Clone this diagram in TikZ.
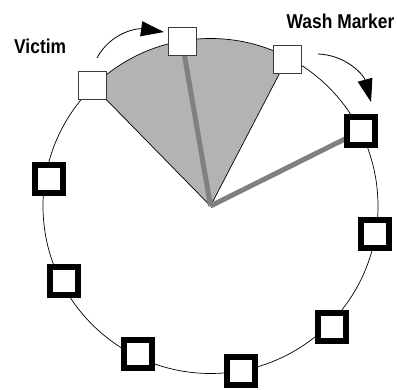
\documentclass[tikz,border=0pt]{standalone}
\usepackage{fontspec}
\newfontfamily\labfont[FakeStretch=0.87]{Liberation Sans}
\usetikzlibrary{arrows.meta}
\definecolor{wedgegray}{RGB}{179,179,179}
\definecolor{spoke}{RGB}{128,128,128}
\definecolor{thinb}{RGB}{60,60,60}
\tikzset{
  whitesq/.style={draw=thinb, line width=0.8pt, fill=white, minimum size=28pt, inner sep=0pt},
  thicksq/.style={draw=black, line width=6pt, fill=white, minimum size=28pt, inner sep=0pt},
  spokeline/.style={draw=spoke, line width=5pt},
  ring/.style={draw=black, line width=0.7pt},
  movearrow/.style={draw=black, line width=0.8pt, -{Triangle[length=23pt,width=15pt]}},
  lab/.style={font=\labfont\bfseries\fontsize{20}{24}\selectfont, inner sep=0pt}
}
\begin{document}
\begin{tikzpicture}[x=1pt,y=1pt]
\useasboundingbox (0,0) rectangle (397,390);
\coordinate (C) at (210.5,184);
% shaded wedge
\fill[fill=wedgegray] (C) -- ([shift={(134.4:167.5)}]C) arc[start angle=134.4, end angle=62.5, radius=167.5] -- cycle;
\draw[ring] ([shift={(134.4:167.5)}]C) -- (C) -- ([shift={(62.5:167.5)}]C);
% ring
\draw[ring] (C) circle[radius=167.5];
% squares positions
\coordinate (p1) at (92,305);
\coordinate (p2) at (182,349);
\coordinate (p3) at (287,331);
\coordinate (p4) at (361,259);
% spokes
\draw[spokeline] (C) -- (p2);
\draw[spokeline] (C) -- (p4);
% squares
\node[whitesq] (s1) at (p1) {};
\node[whitesq] (s2) at (p2) {};
\node[whitesq] (s3) at (p3) {};
\node[thicksq] (s4) at (p4) {};
\node[thicksq] (s5) at (375,156) {};
\node[thicksq] (s6) at (332,63) {};
\node[thicksq] (s7) at (241,19) {};
\node[thicksq] (s8) at (138,36) {};
\node[thicksq] (s9) at (64,109) {};
\node[thicksq] (s10) at (49,211) {};
% arrows
\coordinate (a1s) at (97,332);
\coordinate (a1e) at (164,358);
\coordinate (a2s) at (318,336);
\coordinate (a2e) at (371,288);
\draw[movearrow] (a1s) to[out=62,in=172] (a1e);
\draw[movearrow] (a2s) to[out=-2,in=105] (a2e);
% labels
\node[lab, anchor=base west] (victim) at (14,336.7) {Victim};
\node[lab, anchor=base west] (wash) at (286.5,361.7) {Wash Marker};
\end{tikzpicture}
\end{document}
